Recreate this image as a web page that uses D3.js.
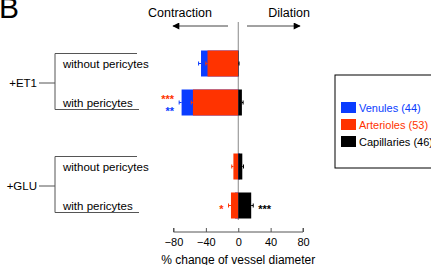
<!DOCTYPE html>
<html>
<head>
<meta charset="utf-8">
<title>vessel diameter</title>
<style>
	body { margin: 0; background: #fff; }
	svg { display: block; font-family: 'Liberation Sans', Arial, sans-serif; }
</style>
</head>
<body>
<svg width="431" height="265"></svg>
<script src="https://d3js.org/d3.v7.min.js"></script>
<script>
	// data
	let groups = ['+ET1', '+GLU']
	let conditions = ['without pericytes', 'with pericytes']
	let series = ['Venules (44)', 'Arterioles (53)', 'Capillaries (46)']
	let colors = ['#0a3cff', '#ff3300', '#000000']

	// rows: ET1 without, ET1 with, GLU without, GLU with
	let venules = [-46, -70, 2, -4]
	let arterioles = [-38, -56, -6, -9]
	let capillaries = [0.5, 4.5, 5, 16]
	let venulesErr = [3, 3, 1.5, 1.5]
	let arteriolesErr = [2, 2, 2, 3]
	let capillariesErr = [0.5, 1.5, 1.5, 2.5]
	let stars = [
		{row: 1, side: 'left', text: '***', color: '#ff3300', dy: -5},
		{row: 1, side: 'left', text: '**', color: '#0a3cff', dy: 7},
		{row: 3, side: 'left', text: '*', color: '#ff3300', dy: 2},
		{row: 3, side: 'right', text: '***', color: '#000000', dy: 2}
	]
	let ticks = [-80, -40, 0, 40, 80]

	let svg = d3.select('svg')

	let x = d3.scaleLinear().domain([-80, 80]).range([173.5, 303])
	let yGroup = d3.scalePoint().domain(groups).range([83, 186])
	let yCond = d3.scalePoint().domain(conditions).range([-19.5, 19.5])
	let barH = 26

	let rows = []
	groups.forEach(g => conditions.forEach(c => rows.push({g: g, c: c})))
	let rowY = i => yGroup(rows[i].g) + yCond(rows[i].c)

	let allSeries = [
		{vals: venules, errs: venulesErr, color: colors[0]},
		{vals: arterioles, errs: arteriolesErr, color: colors[1]},
		{vals: capillaries, errs: capillariesErr, color: colors[2]}
	]

	// zero line
	svg.append('line')
		.attr('x1', x(0)).attr('x2', x(0))
		.attr('y1', 22).attr('y2', 220)
		.style('stroke', '#888').style('stroke-width', 1)

	// bars, drawn in order so later series sit on top
	allSeries.forEach(s => {
		let g = svg.append('g')
		s.vals.forEach((v, i) => {
			let cy = rowY(i)
			g.append('rect')
				.attr('x', Math.min(x(0), x(v)))
				.attr('y', cy - barH / 2)
				.attr('width', Math.abs(x(v) - x(0)))
				.attr('height', barH)
				.style('fill', s.color)
			// error whisker
			let e = v < 0 ? v - s.errs[i] : v + s.errs[i]
			g.append('line')
				.attr('x1', x(v)).attr('x2', x(e))
				.attr('y1', cy).attr('y2', cy)
				.style('stroke', s.color).style('stroke-width', 1)
			g.append('line')
				.attr('x1', x(e)).attr('x2', x(e))
				.attr('y1', cy - 2).attr('y2', cy + 2)
				.style('stroke', s.color).style('stroke-width', 1)
		})
	})

	// significance stars
	stars.forEach(st => {
		let minV = d3.min(allSeries, s => s.vals[st.row] - s.errs[st.row])
		let maxV = d3.max(allSeries, s => s.vals[st.row] + s.errs[st.row])
		svg.append('text')
			.attr('x', st.side == 'left' ? x(minV) - 5 : x(maxV) + 5)
			.attr('y', rowY(st.row) + st.dy + 5)
			.attr('text-anchor', st.side == 'left' ? 'end' : 'start')
			.style('fill', st.color)
			.style('font-size', '11px')
			.style('font-weight', 'bold')
			.text(st.text)
	})

	// x axis
	let axis = svg.append('g')
		.attr('transform', 'translate(0,232)')
		.call(d3.axisBottom(x).tickValues(ticks).tickSize(-4).tickPadding(6))
	axis.select('.domain').attr('d', `M${x(-80)},-4V0H${x(80)}V-4`).style('stroke', '#555')
	axis.selectAll('.tick line').style('stroke', '#555')
	axis.selectAll('.tick text')
		.style('font-family', "'Liberation Sans', Arial, sans-serif")
		.style('font-size', '11px')
		.style('fill', '#000')

	svg.append('text')
		.attr('x', x(0)).attr('y', 264)
		.attr('text-anchor', 'middle')
		.style('font-size', '12px')
		.text('% change of vessel diameter')

	// group brackets and labels
	groups.forEach(g => {
		let cy = yGroup(g)
		let top = cy + yCond(conditions[0]) - 10
		let bot = cy + yCond(conditions[1]) + 7
		svg.append('path')
			.attr('d', `M137,${top}H55V${bot}H139`)
			.style('fill', 'none').style('stroke', '#555').style('stroke-width', 1)
		svg.append('line')
			.attr('x1', 39).attr('x2', 55).attr('y1', cy).attr('y2', cy)
			.style('stroke', '#555')
		svg.append('text')
			.attr('x', 37).attr('y', cy + 4)
			.attr('text-anchor', 'end')
			.style('font-size', '11.5px')
			.text(g)
		conditions.forEach(c => {
			svg.append('text')
				.attr('x', 63).attr('y', cy + yCond(c) + 4)
				.style('font-size', '11.5px')
				.text(c)
		})
	})

	// panel letter
	svg.append('text')
		.attr('x', -1).attr('y', 18)
		.style('font-size', '30px')
		.text('B')

	// direction arrows
	svg.append('defs').append('marker')
		.attr('id', 'head')
		.attr('viewBox', '0 0 10 10')
		.attr('refX', 9).attr('refY', 5)
		.attr('markerWidth', 9).attr('markerHeight', 7)
		.attr('orient', 'auto-start-reverse')
		.append('path').attr('d', 'M0,0L10,5L0,10Z').style('fill', '#000')

	svg.append('line')
		.attr('x1', 228).attr('x2', 173).attr('y1', 26).attr('y2', 26)
		.style('stroke', '#444').attr('marker-end', 'url(#head)')
	svg.append('line')
		.attr('x1', 247).attr('x2', 300).attr('y1', 26).attr('y2', 26)
		.style('stroke', '#444').attr('marker-end', 'url(#head)')
	svg.append('text')
		.attr('x', 180).attr('y', 17).attr('text-anchor', 'middle')
		.style('font-size', '12.5px').text('Contraction')
	svg.append('text')
		.attr('x', 289).attr('y', 17).attr('text-anchor', 'middle')
		.style('font-size', '12.5px').text('Dilation')

	// legend
	let legend = svg.append('g').attr('transform', 'translate(335,75)')
	legend.append('rect')
		.attr('width', 110).attr('height', 93)
		.style('fill', 'none').style('stroke', '#000').style('stroke-width', 1)
	series.forEach((s, i) => {
		legend.append('rect')
			.attr('x', 6).attr('y', 27 + i * 17)
			.attr('width', 15).attr('height', 11)
			.style('fill', colors[i])
		legend.append('text')
			.attr('x', 24).attr('y', 37 + i * 17)
			.style('font-size', '11px')
			.style('fill', colors[i])
			.text(s)
	})
</script>
</body>
</html>
